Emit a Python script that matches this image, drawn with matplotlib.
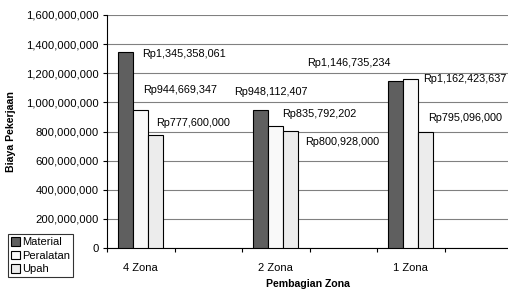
import numpy as np
import matplotlib
matplotlib.use("Agg")
import matplotlib.pyplot as plt
from matplotlib.ticker import FuncFormatter

plt.rcParams['font.family'] = ['Liberation Sans', 'DejaVu Sans']

# ----- DATA
zones = ["4 Zona", "2 Zona", "1 Zona"]
series = ["Material", "Peralatan", "Upah"]
material = [1345358061, 948112407, 1146735234]
peralatan = [944669347, 835792202, 1162423637]
upah = [777600000, 800928000, 795096000]

# ----- STYLE
colors = ["#5f5f5f", "#f9f9f9", "#ececec"]
# label offsets from bar top (pixels): left edge of text, vertical center
label_offsets = [
    [(16, -2), (2, 20), (0, 12)],
    [(-27, 18), (6, 12), (14, -11)],
    [(-89, 18), (12, 0), (2, 14)],
]

fig = plt.figure(figsize=(5.08, 2.94), dpi=100)
ax = fig.add_axes([107 / 508, 1 - 248 / 294, 405 / 508, 233 / 294])

bar_w = 0.222
group_x = np.arange(len(zones)) * 2  # every other category slot holds a group
values = [material, peralatan, upah]

for s, (name, vals, col) in enumerate(zip(series, values, colors)):
    xs = group_x + (s - 1) * bar_w
    ax.bar(xs, vals, width=bar_w, color=col, edgecolor="black", linewidth=0.8,
           label=name, zorder=3)
    for g, (x, v) in enumerate(zip(xs, vals)):
        dx, dy = label_offsets[g][s]
        ax.annotate(f"Rp{v:,.0f}", xy=(x, v), xytext=(dx, dy),
                    textcoords="offset pixels", ha="left", va="center",
                    fontsize=7.8, zorder=4)

ax.set_ylim(0, 1.6e9)
ax.set_yticks(np.arange(0, 1.6e9 + 1, 2e8))
ax.yaxis.set_major_formatter(FuncFormatter(lambda v, p: f"{v:,.0f}"))
ax.set_xlim(-0.5, 5.5)
ax.set_xticks(np.arange(-0.5, 6, 1))
ax.set_xticklabels([])
ax.set_xticks(group_x, minor=True)
ax.set_xticklabels(zones, minor=True)
ax.tick_params(axis="x", which="minor", length=0, pad=11, labelsize=8)
ax.tick_params(axis="x", which="major", length=3, width=0.8, direction="out")
ax.tick_params(axis="y", length=3, width=0.8, labelsize=8.1, pad=3)

ax.grid(axis="y", color="#808080", linewidth=0.8, zorder=0)
for side in ["top", "right"]:
    ax.spines[side].set_visible(False)
ax.spines["left"].set_linewidth(0.8)
ax.spines["bottom"].set_linewidth(0.8)

ax.set_ylabel("Biaya Pekerjaan", fontsize=7.6, fontweight="bold", labelpad=7)
fig.text(308 / 508, 1 - 284 / 294, "Pembagian Zona", fontsize=7.6,
         fontweight="bold", ha="center", va="center")

leg = fig.legend(loc="lower left", bbox_to_anchor=(8 / 508, 1 - 277 / 294),
                 fontsize=8, frameon=True, fancybox=False, handlelength=0.8,
                 handleheight=0.8, handletextpad=0.25, borderpad=0.25,
                 labelspacing=0.3, borderaxespad=0)
leg.get_frame().set_edgecolor("black")
leg.get_frame().set_linewidth(0.8)

fig.savefig("out.png", dpi=100)
